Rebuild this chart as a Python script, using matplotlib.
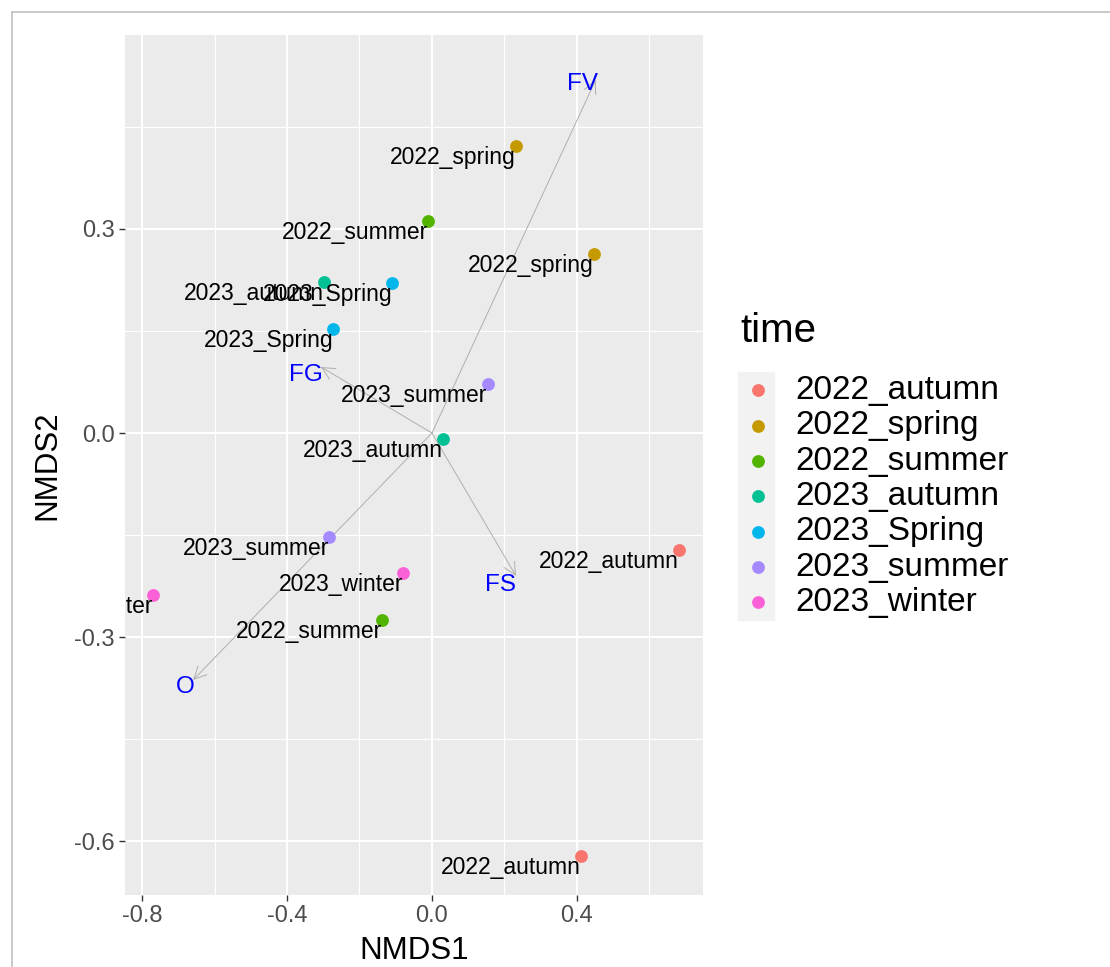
import matplotlib
matplotlib.use("Agg")
import matplotlib.pyplot as plt
from matplotlib.patches import Rectangle
from matplotlib.lines import Line2D

plt.rcParams['font.family'] = ['Liberation Sans', 'DejaVu Sans']

# Grupos (orden de la leyenda) y colores
grupos = ['2022_autumn', '2022_spring', '2022_summer', '2023_autumn',
          '2023_Spring', '2023_summer', '2023_winter']
colores = ['#F8766D', '#C49A00', '#53B400', '#00C094', '#00B6EB', '#A58AFF', '#FB61D7']

# Muestras: grupo, NMDS1, NMDS2
muestra_grupo = ['2022_autumn', '2022_autumn', '2022_spring', '2022_spring',
                 '2022_summer', '2022_summer', '2023_autumn', '2023_autumn',
                 '2023_Spring', '2023_Spring', '2023_summer', '2023_summer',
                 '2023_winter', '2023_winter']
nmds1 = [0.681, 0.411, 0.232, 0.447, -0.011, -0.138, -0.298, 0.030,
         -0.110, -0.273, 0.154, -0.284, -0.770, -0.080]
nmds2 = [-0.172, -0.622, 0.422, 0.263, 0.312, -0.275, 0.222, -0.009,
         0.221, 0.153, 0.072, -0.153, -0.238, -0.206]

# Vectores de variables
vect_nombre = ['FV', 'FG', 'FS', 'O']
vect_x = [0.452, -0.306, 0.232, -0.659]
vect_y = [0.519, 0.097, -0.210, -0.363]
etiq_x = [0.415, -0.348, 0.190, -0.681]
etiq_y = [0.513, 0.085, -0.224, -0.374]

W, H = 1110, 967
fig = plt.figure(figsize=(W / 100, H / 100), dpi=100)
ax = fig.add_axes([125 / W, (H - 895) / H, (703 - 125) / W, (895 - 35) / H])
ax.set_facecolor('#EBEBEB')

# Borde exterior (captura)
fig.add_artist(Line2D([12 / W, 1.0], [1 - 12 / H, 1 - 12 / H], color='#C0C0C0', lw=1.2))
fig.add_artist(Line2D([12 / W, 12 / W], [0, 1 - 12 / H], color='#C0C0C0', lw=1.2))

# Flechas
for i in range(len(vect_nombre)):
    ax.annotate('', xy=(vect_x[i], vect_y[i]), xytext=(0, 0),
                arrowprops=dict(arrowstyle='->', color='#AFAFAF', lw=0.7,
                                mutation_scale=22, shrinkA=0, shrinkB=0), zorder=2)
    ax.text(etiq_x[i], etiq_y[i], vect_nombre[i], color='blue', fontsize=17.5,
            ha='center', va='center', zorder=4)

# Puntos
for g, c in zip(grupos, colores):
    xs = [x for x, gg in zip(nmds1, muestra_grupo) if gg == g]
    ys = [y for y, gg in zip(nmds2, muestra_grupo) if gg == g]
    ax.scatter(xs, ys, s=85, color=c, label=g, zorder=3, linewidths=0)

# Etiquetas de puntos
for x, y, g in zip(nmds1, nmds2, muestra_grupo):
    ax.text(x, y, g, fontsize=16.5, color='black', ha='right', va='top', zorder=4,
            clip_on=True)

ax.set_xlim(-0.847, 0.748)
ax.set_ylim(-0.679, 0.585)
ax.set_xticks([-0.8, -0.4, 0.0, 0.4])
ax.set_xticklabels(['-0.8', '-0.4', '0.0', '0.4'])
ax.set_yticks([-0.6, -0.3, 0.0, 0.3])
ax.set_yticklabels(['-0.6', '-0.3', '0.0', '0.3'])
ax.set_xticks([-0.6, -0.2, 0.2, 0.6], minor=True)
ax.set_yticks([-0.45, -0.15, 0.15, 0.45], minor=True)
ax.grid(which='major', color='white', lw=1.5)
ax.grid(which='minor', color='white', lw=0.8)
ax.set_axisbelow(True)
ax.tick_params(which='major', labelsize=17, labelcolor='#4D4D4D', color='#333333',
               length=4, width=1)
ax.tick_params(which='minor', length=0)
for s in ax.spines.values():
    s.set_visible(False)
ax.set_xlabel('NMDS1', fontsize=22.5, labelpad=6)
ax.set_ylabel('NMDS2', fontsize=22.5, labelpad=8)

# Leyenda
fig.text(740 / W, 1 - 331 / H, 'time', fontsize=29, ha='left', va='center')
fig.add_artist(Rectangle((738 / W, 1 - 620 / H), 36 / W, 248 / H,
                         transform=fig.transFigure, color='#F2F2F2', zorder=0))
leg = ax.legend(loc='upper left', bbox_to_anchor=(741 / W, 1 - 375 / H),
                bbox_transform=fig.transFigure, frameon=False,
                fontsize=24, handlelength=1.0, handletextpad=0.63,
                labelspacing=0.13, borderpad=0, borderaxespad=0)

fig.savefig('out.png', dpi=100)
